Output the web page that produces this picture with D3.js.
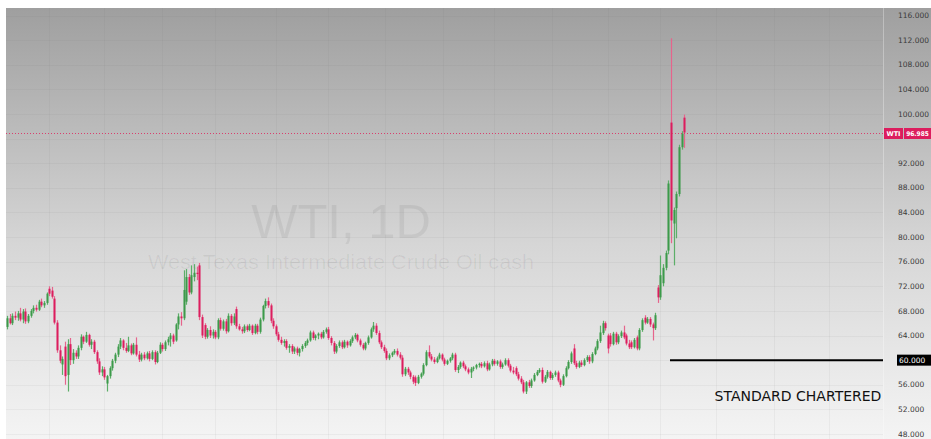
<!DOCTYPE html>
<html>
<head>
<meta charset="utf-8">
<script src="https://cdn.jsdelivr.net/npm/d3@7"></script>
<style>
  body { margin: 0; background: #fff; }
  svg { display: block; }
</style>
</head>
<body>
<script>
// daily WTI candles, oldest first
const opens = [
  65.4, 66.8, 66.0, 67.2, 66.9, 67.6, 66.6, 67.9, 66.3, 67.2,
  68.0, 68.5, 68.2, 69.5, 68.9, 69.3, 71.6, 71.3, 70.0, 66.1,
  61.6, 59.3, 62.2, 57.6, 62.6, 60.0, 61.2, 60.6, 62.0, 63.8,
  63.0, 64.1, 62.5, 63.0, 61.3, 59.8, 58.0, 58.5, 56.2, 57.4,
  58.7, 59.9, 60.9, 62.2, 63.2, 62.0, 61.5, 62.4, 61.1, 62.5,
  60.9, 60.1, 60.9, 60.3, 61.1, 60.2, 61.3, 59.7, 61.2, 62.5,
  61.8, 62.9, 63.4, 64.0, 63.2, 65.8, 67.1, 66.8, 69.5, 73.5,
  71.0, 73.5, 74.2, 75.4, 67.0, 65.7, 63.8, 64.9, 64.0, 64.6,
  63.7, 66.5, 65.1, 66.3, 64.7, 67.2, 66.0, 68.3, 65.5, 65.0,
  64.7, 65.5, 64.9, 65.6, 64.4, 65.6, 64.6, 66.6, 68.8, 69.6,
  68.9, 66.4, 65.5, 64.2, 63.3, 62.8, 63.1, 62.0, 62.3, 61.4,
  61.9, 61.2, 61.8, 62.3, 62.8, 63.2, 64.5, 63.6, 64.0, 64.3,
  63.7, 64.6, 65.0, 63.6, 62.8, 61.4, 62.3, 62.9, 62.1, 63.0,
  62.4, 63.1, 63.7, 64.1, 63.2, 62.5, 61.9, 62.8, 63.7, 65.0,
  65.6, 64.4, 62.9, 62.1, 61.5, 60.3, 60.8, 61.2, 61.5, 60.9,
  60.4, 57.7, 58.6, 58.0, 57.3, 57.2, 56.3, 57.3, 57.8, 59.2,
  61.3, 60.6, 60.1, 59.7, 60.3, 60.9, 60.1, 59.4, 59.9, 60.3,
  60.9, 58.4, 58.9, 59.6, 59.0, 58.5, 58.0, 58.6, 58.8, 59.2,
  59.4, 59.0, 59.5, 58.5, 59.3, 59.9, 59.4, 59.8, 58.9, 59.3,
  60.0, 59.1, 58.3, 58.7, 57.7, 57.0, 56.4, 54.9, 56.4, 55.8,
  56.7, 57.6, 58.1, 58.4, 56.5, 57.3, 58.1, 57.1, 57.6, 58.0,
  56.7, 56.0, 57.4, 58.7, 59.7, 61.9, 59.5, 58.9, 59.6, 59.2,
  60.0, 60.5, 59.8, 61.0, 61.9, 63.1, 64.4, 66.0, 64.0, 64.0,
  62.6, 64.3, 62.9, 63.9, 64.5, 64.0, 62.7, 62.9, 62.1, 63.7,
  61.9, 64.9, 66.9, 66.1, 66.7, 65.8, 65.2, 71.8, 70.2, 72.5,
  75.0, 77.8, 98.6, 82.2, 84.7, 87.0, 94.6, 99.4
];
const highs = [
  67.2, 67.5, 67.6, 67.9, 68.0, 68.5, 68.3, 68.4, 67.5, 68.3,
  68.9, 69.0, 69.8, 70.0, 69.6, 71.0, 72.0, 71.9, 70.4, 66.5,
  62.4, 60.6, 63.0, 63.4, 63.6, 61.8, 61.6, 62.4, 64.2, 64.0,
  64.6, 64.3, 63.4, 63.3, 61.6, 60.3, 59.0, 58.9, 57.6, 59.0,
  60.2, 61.2, 62.6, 63.6, 63.4, 62.8, 63.8, 62.7, 62.8, 63.7,
  61.5, 61.2, 61.3, 61.4, 61.5, 61.6, 61.6, 61.5, 62.9, 62.8,
  63.2, 63.8, 64.4, 64.3, 66.0, 67.6, 67.8, 74.6, 74.8, 74.0,
  75.4, 75.6, 75.2, 75.8, 67.4, 66.0, 65.2, 65.5, 65.0, 64.9,
  66.8, 66.9, 66.6, 66.7, 67.6, 67.5, 67.6, 68.7, 65.9, 65.4,
  65.8, 65.8, 65.9, 65.8, 65.9, 65.9, 66.9, 69.0, 70.0, 70.2,
  69.2, 66.8, 65.8, 64.6, 63.8, 63.4, 63.4, 62.6, 62.6, 62.2,
  62.2, 62.0, 62.6, 63.1, 63.5, 64.8, 64.8, 64.2, 64.5, 64.6,
  64.9, 65.3, 65.4, 63.9, 63.1, 62.6, 63.2, 63.2, 63.3, 63.2,
  63.4, 64.0, 64.4, 64.3, 63.5, 62.8, 63.0, 64.0, 65.3, 66.2,
  66.0, 64.8, 63.2, 62.5, 61.9, 61.1, 61.4, 61.8, 61.9, 61.3,
  60.8, 58.9, 58.9, 58.3, 57.6, 57.5, 57.6, 58.0, 59.5, 61.6,
  62.4, 61.0, 60.5, 60.6, 61.2, 61.1, 60.4, 60.1, 60.5, 61.2,
  61.2, 59.2, 59.8, 59.9, 59.3, 58.8, 58.9, 59.0, 59.4, 59.6,
  59.7, 59.8, 59.9, 59.6, 60.2, 60.2, 60.0, 60.1, 59.6, 60.3,
  60.3, 59.4, 58.9, 59.0, 58.1, 57.4, 56.8, 56.6, 56.8, 57.0,
  57.9, 58.4, 58.7, 58.8, 57.6, 58.4, 58.3, 57.9, 58.3, 58.3,
  57.0, 57.7, 59.0, 60.0, 61.4, 62.6, 59.9, 59.9, 60.0, 60.3,
  60.8, 60.8, 61.3, 62.2, 63.4, 65.6, 66.4, 66.3, 64.3, 64.4,
  64.6, 64.6, 64.2, 64.8, 65.6, 64.3, 63.3, 63.2, 63.6, 64.0,
  65.2, 66.8, 67.3, 67.0, 67.0, 66.1, 67.7, 72.2, 77.0, 75.6,
  77.8, 89.2, 112.3, 84.8, 87.4, 95.0, 97.2, 99.9
];
const lows = [
  65.0, 65.8, 65.7, 66.5, 66.4, 66.3, 66.0, 65.9, 66.0, 66.9,
  67.6, 67.9, 68.0, 68.6, 68.5, 69.0, 70.4, 70.0, 65.8, 61.2,
  59.5, 57.6, 56.0, 54.9, 59.2, 59.4, 60.2, 60.2, 61.6, 62.6,
  62.8, 62.2, 61.8, 61.0, 59.4, 57.6, 57.4, 56.8, 54.9, 57.0,
  58.3, 59.5, 60.5, 61.8, 61.6, 61.2, 61.3, 60.8, 60.9, 60.6,
  59.7, 59.8, 60.0, 60.1, 59.8, 60.0, 59.3, 59.5, 61.0, 61.4,
  61.5, 62.4, 62.2, 62.6, 63.0, 65.0, 65.6, 66.5, 69.0, 70.6,
  70.7, 72.8, 73.0, 66.5, 63.6, 63.4, 63.5, 63.6, 63.5, 63.4,
  63.4, 64.8, 64.8, 64.3, 64.5, 65.6, 65.7, 65.1, 64.8, 64.3,
  64.4, 64.6, 64.7, 64.1, 64.2, 64.2, 64.3, 66.3, 68.4, 68.5,
  66.0, 65.1, 63.9, 63.0, 62.5, 62.2, 61.7, 61.2, 61.0, 61.0,
  60.8, 60.6, 61.4, 62.0, 62.4, 63.0, 63.3, 63.2, 63.4, 63.4,
  63.5, 64.3, 63.3, 62.4, 61.0, 61.1, 62.0, 61.8, 61.9, 62.0,
  62.2, 62.8, 63.4, 62.9, 62.2, 61.6, 61.6, 62.5, 63.5, 64.6,
  64.1, 62.6, 61.8, 61.2, 60.0, 60.0, 60.5, 60.9, 60.6, 60.1,
  57.3, 57.4, 57.6, 56.9, 56.1, 55.8, 56.1, 57.0, 57.5, 59.0,
  60.3, 59.8, 59.4, 59.5, 60.1, 59.8, 59.1, 59.2, 59.6, 60.0,
  58.1, 57.9, 58.6, 58.7, 58.2, 57.7, 57.1, 58.2, 58.5, 58.8,
  58.7, 58.8, 58.2, 58.3, 59.0, 59.1, 59.1, 58.6, 58.6, 59.1,
  58.8, 58.0, 57.7, 57.4, 56.7, 56.1, 54.6, 54.5, 55.5, 55.5,
  56.5, 57.4, 57.9, 56.2, 56.3, 57.0, 56.8, 56.8, 57.3, 56.4,
  55.6, 55.8, 57.2, 58.5, 59.4, 59.2, 58.6, 58.7, 58.9, 59.0,
  59.7, 59.4, 59.5, 60.8, 61.6, 62.8, 64.1, 64.8, 61.1, 62.2,
  62.4, 62.5, 62.6, 63.6, 63.4, 62.4, 61.8, 61.8, 61.9, 61.6,
  61.6, 64.6, 65.8, 65.9, 65.4, 63.2, 64.9, 69.3, 69.8, 72.0,
  74.6, 77.2, 79.0, 75.4, 79.8, 86.6, 94.2, 94.5
];
const closes = [
  66.8, 66.0, 67.2, 66.9, 67.6, 66.6, 67.9, 66.3, 67.2, 68.0,
  68.5, 68.2, 69.5, 68.9, 69.3, 70.8, 70.8, 70.3, 66.1, 61.6,
  59.9, 60.2, 57.4, 62.6, 60.0, 61.2, 60.6, 62.0, 63.8, 63.0,
  64.1, 62.5, 63.0, 61.3, 59.8, 58.0, 58.5, 57.2, 57.4, 58.7,
  59.9, 60.9, 62.2, 63.2, 62.0, 61.5, 62.4, 61.1, 62.5, 60.9,
  60.1, 60.9, 60.3, 61.1, 60.2, 61.3, 59.7, 61.2, 62.5, 61.8,
  62.9, 63.4, 64.0, 63.0, 65.8, 67.1, 66.8, 71.4, 73.5, 71.0,
  73.8, 74.2, 74.0, 67.0, 64.0, 63.8, 64.9, 64.0, 64.6, 63.7,
  66.5, 65.1, 66.3, 64.7, 67.2, 66.0, 67.1, 65.5, 65.0, 64.7,
  65.5, 64.9, 65.6, 64.4, 65.6, 64.6, 66.6, 68.8, 69.6, 68.9,
  66.4, 65.5, 64.2, 63.3, 62.8, 63.1, 62.0, 62.3, 61.4, 61.9,
  61.2, 61.8, 62.3, 62.8, 63.2, 64.5, 63.6, 64.0, 64.3, 63.7,
  64.6, 65.0, 63.6, 62.8, 61.4, 62.3, 62.9, 62.1, 63.0, 62.4,
  63.1, 63.7, 64.1, 63.2, 62.5, 61.9, 62.8, 63.7, 65.0, 65.6,
  64.4, 62.9, 62.1, 61.5, 60.3, 60.8, 61.2, 61.5, 60.9, 60.4,
  57.7, 58.6, 58.0, 57.3, 56.5, 56.3, 57.3, 57.8, 59.2, 61.3,
  60.6, 60.1, 59.7, 60.3, 60.9, 60.1, 59.4, 59.9, 60.3, 60.9,
  58.4, 58.9, 59.6, 59.0, 58.5, 58.0, 58.6, 58.8, 59.2, 59.4,
  59.0, 59.5, 58.5, 59.3, 59.9, 59.4, 59.8, 58.9, 59.3, 60.0,
  59.1, 58.3, 58.0, 57.7, 57.0, 56.4, 54.9, 56.4, 55.8, 56.7,
  57.6, 58.1, 58.4, 56.5, 57.3, 58.1, 57.1, 57.6, 58.0, 56.7,
  56.0, 57.4, 58.7, 59.7, 61.1, 59.5, 58.9, 59.6, 59.2, 60.0,
  60.5, 59.8, 61.0, 61.9, 63.1, 64.5, 66.0, 65.2, 61.9, 62.6,
  64.3, 62.9, 63.9, 64.5, 63.7, 62.7, 62.1, 62.1, 63.3, 61.9,
  64.9, 66.5, 66.1, 66.7, 65.8, 65.2, 67.3, 70.2, 73.8, 75.0,
  77.4, 88.7, 82.7, 84.4, 87.0, 94.6, 96.8, 96.985
];

// price axis ticks and month separators (candle index)
const priceTicks = [48, 52, 56, 60, 64, 68, 72, 76, 80, 84, 88, 92, 96, 100, 104, 108, 112, 116];
const monthStarts = [16, 37, 59, 79, 102, 122, 143.5, 165.5, 185, 207, 228, 248, 269, 291, 312];

const lastPrice = 96.985;
const targetPrice = 60;
const symbol = "WTI";
const watermarkTitle = "WTI, 1D";
const watermarkSub = "West Texas Intermediate Crude Oil cash";
const targetLabel = "STANDARD CHARTERED";

const W = 931, H = 439;
const plot = { left: 6, top: 8, right: 883 };
const upColor = "#3c9a4a";
const downColor = "#dc1d5e";
const upWick = "#5cae68";
const downWick = "#e6648c";

const svg = d3.select("body").append("svg")
  .attr("width", W)
  .attr("height", H);

// background gradient
const grad = svg.append("defs").append("linearGradient")
  .attr("id", "bg")
  .attr("x1", 0).attr("y1", 0).attr("x2", 0).attr("y2", 1);
grad.append("stop").attr("offset", "0%").attr("stop-color", "#9f9f9f");
grad.append("stop").attr("offset", "55%").attr("stop-color", "#d6d6d6");
grad.append("stop").attr("offset", "100%").attr("stop-color", "#f4f4f4");

svg.append("rect")
  .attr("x", plot.left).attr("y", plot.top)
  .attr("width", W - plot.left).attr("height", H - plot.top)
  .attr("fill", "url(#bg)");

const n = closes.length;
const x = d3.scaleLinear().domain([0, n - 1]).range([7, 684.2]);
const y = d3.scaleLinear().domain([48, 116]).range([434, 15.5]);

// grid
svg.append("g")
  .selectAll("line")
  .data(priceTicks)
  .join("line")
  .attr("x1", plot.left).attr("x2", plot.right)
  .attr("y1", d => Math.round(y(d)) + 0.5).attr("y2", d => Math.round(y(d)) + 0.5)
  .attr("stroke", "rgba(120,120,120,0.07)");

svg.append("g")
  .selectAll("line")
  .data(monthStarts)
  .join("line")
  .attr("x1", d => Math.round(x(d)) + 0.5).attr("x2", d => Math.round(x(d)) + 0.5)
  .attr("y1", plot.top).attr("y2", H)
  .attr("stroke", "rgba(120,120,120,0.07)");

// axis separator
svg.append("line")
  .attr("x1", plot.right + 0.5).attr("x2", plot.right + 0.5)
  .attr("y1", plot.top).attr("y2", H)
  .attr("stroke", "rgba(255,255,255,0.3)");

// watermark
svg.append("text")
  .attr("x", 341).attr("y", 238)
  .attr("text-anchor", "middle")
  .style("font-family", "'Liberation Sans', Arial, sans-serif")
  .style("font-size", "49px")
  .attr("fill", "rgba(0,0,0,0.06)")
  .text(watermarkTitle);

svg.append("text")
  .attr("x", 341).attr("y", 269)
  .attr("text-anchor", "middle")
  .attr("textLength", 386)
  .attr("lengthAdjust", "spacingAndGlyphs")
  .style("font-family", "'Liberation Sans', Arial, sans-serif")
  .style("font-size", "21px")
  .attr("fill", "rgba(0,0,0,0.06)")
  .text(watermarkSub);

// candles
const idx = d3.range(n);
const candles = svg.append("g");
candles.selectAll("line")
  .data(idx)
  .join("line")
  .attr("x1", i => Math.round(x(i)) + 0.5)
  .attr("x2", i => Math.round(x(i)) + 0.5)
  .attr("y1", i => y(highs[i]))
  .attr("y2", i => y(lows[i]))
  .attr("stroke", i => closes[i] >= opens[i] ? upWick : downWick)
  .attr("stroke-width", 1.2);

candles.selectAll("rect")
  .data(idx)
  .join("rect")
  .attr("x", i => Math.round(x(i)) - 0.5)
  .attr("width", 2)
  .attr("y", i => y(Math.max(opens[i], closes[i])))
  .attr("height", i => Math.max(1, Math.abs(y(opens[i]) - y(closes[i]))))
  .attr("fill", i => closes[i] >= opens[i] ? upColor : downColor);

// last price line
const yLast = Math.round(y(lastPrice)) + 0.5;
svg.append("line")
  .attr("x1", plot.left).attr("x2", plot.right)
  .attr("y1", yLast).attr("y2", yLast)
  .attr("stroke", "#d8406e")
  .attr("stroke-width", 1)
  .attr("stroke-dasharray", "1,2");

// target line
const yTarget = y(targetPrice);
svg.append("line")
  .attr("x1", 670).attr("x2", plot.right)
  .attr("y1", yTarget).attr("y2", yTarget)
  .attr("stroke", "#000")
  .attr("stroke-width", 2);

svg.append("text")
  .attr("x", 798).attr("y", 401)
  .attr("text-anchor", "middle")
  .style("font-family", "'DejaVu Sans', sans-serif")
  .style("font-size", "14px")
  .attr("fill", "#111")
  .text(targetLabel);

// price axis labels
svg.append("g")
  .selectAll("text")
  .data(priceTicks.filter(d => d !== 96))
  .join("text")
  .attr("x", 898)
  .attr("y", d => y(d))
  .attr("dy", "0.35em")
  .style("font-family", "'DejaVu Sans', sans-serif")
  .style("font-size", "7.5px")
  .attr("fill", "#3a3a3a")
  .text(d => d3.format(".3f")(d));

// target price tag
svg.append("rect")
  .attr("x", 897).attr("y", yTarget - 5.5)
  .attr("width", W - 897).attr("height", 11)
  .attr("fill", "#000");
svg.append("text")
  .attr("x", 899).attr("y", yTarget)
  .attr("dy", "0.35em")
  .style("font-family", "'DejaVu Sans', sans-serif")
  .style("font-size", "7.5px")
  .attr("fill", "#fff")
  .text(d3.format(".3f")(targetPrice));

// last price tag
svg.append("rect")
  .attr("x", 884).attr("y", yLast - 5.5)
  .attr("width", 19).attr("height", 11)
  .attr("fill", downColor);
svg.append("text")
  .attr("x", 893.5).attr("y", yLast)
  .attr("dy", "0.35em")
  .attr("text-anchor", "middle")
  .style("font-family", "'DejaVu Sans', sans-serif")
  .style("font-size", "6.5px")
  .style("font-weight", "bold")
  .attr("fill", "#fff")
  .text(symbol);
svg.append("rect")
  .attr("x", 904).attr("y", yLast - 5.5)
  .attr("width", W - 904).attr("height", 11)
  .attr("fill", downColor);
svg.append("text")
  .attr("x", 917.5).attr("y", yLast)
  .attr("dy", "0.35em")
  .attr("text-anchor", "middle")
  .style("font-family", "'DejaVu Sans Condensed', 'DejaVu Sans', sans-serif")
  .style("font-size", "6.5px")
  .style("font-weight", "bold")
  .attr("fill", "#fff")
  .text(d3.format(".3f")(lastPrice));
</script>
</body>
</html>
